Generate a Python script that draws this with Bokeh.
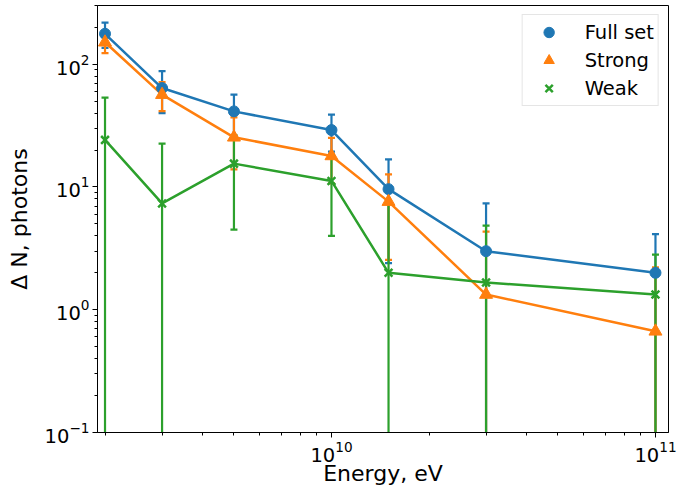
import numpy as np
from bokeh.plotting import figure
from bokeh.models import Range1d, FixedTicker, LogTickFormatter, Legend, LegendItem
from bokeh.embed import file_html
from bokeh.resources import INLINE

# ---- data ----
energy = [2e9, 3e9, 5e9, 1e10, 1.5e10, 3e10, 1e11]

full = [177, 64, 41.3, 29.1, 9.6, 3.0, 2.0]
full_err = [41, 24, 15.3, 9.7, 7.2, 4.35, 2.13]

strong = [151, 56.5, 25.4, 17.9, 7.6, 1.33, 0.667]
strong_err = [28, 15, 11.5, 7.2, 5.05, 3.0, 1.55]

weak = [24.2, 7.35, 15.5, 11.2, 2.0, 1.667, 1.333]
weak_err = [29.3, 15.2, 11.0, 7.2, 5.7, 3.17, 1.48]

labels = ["Full set", "Strong", "Weak"]
colors = ["#1f77b4", "#ff7f0e", "#2ca02c"]
markers = ["circle", "triangle", "x"]

# tick positions
x_major = [1e10, 1e11]
x_minor = [2e9, 3e9, 4e9, 5e9, 6e9, 7e9, 8e9, 9e9,
           2e10, 3e10, 4e10, 5e10, 6e10, 7e10, 8e10, 9e10]
y_major = [0.1, 1, 10, 100]
y_minor = [0.2, 0.3, 0.4, 0.5, 0.6, 0.7, 0.8, 0.9,
           2, 3, 4, 5, 6, 7, 8, 9,
           20, 30, 40, 50, 60, 70, 80, 90,
           200, 300]

FONT = "DejaVu Sans"

p = figure(width=688, height=488, x_axis_type="log", y_axis_type="log",
           x_range=Range1d(1.896e9, 1.097e11), y_range=Range1d(0.1, 301),
           output_backend="svg", toolbar_location=None,
           min_border_left=97, min_border_right=20, min_border_top=5,
           min_border_bottom=56)

p.grid.visible = False
p.outline_line_color = "black"
p.outline_line_width = 1
p.background_fill_color = "white"
p.border_fill_color = "white"

p.xaxis[0].ticker = FixedTicker(ticks=x_major, minor_ticks=x_minor)
p.yaxis[0].ticker = FixedTicker(ticks=y_major, minor_ticks=y_minor)

for ax in (p.xaxis[0], p.yaxis[0]):
    ax.formatter = LogTickFormatter()
    ax.major_tick_out = 5
    ax.major_tick_in = 0
    ax.minor_tick_out = 3
    ax.minor_tick_in = 0
    ax.axis_line_color = "black"
    ax.major_tick_line_color = "black"
    ax.minor_tick_line_color = "black"
    ax.major_label_text_font = FONT
    ax.major_label_text_font_size = "19.5px"
    ax.major_label_text_color = "black"
    ax.axis_label_text_font = FONT
    ax.axis_label_text_font_size = "22px"
    ax.axis_label_text_font_style = "normal"
    ax.axis_label_text_color = "black"
    ax.major_label_standoff = 3

p.xaxis.axis_label = "Energy, eV"
p.yaxis.axis_label = "\u0394 N, photons"
p.xaxis.axis_label_standoff = -4
p.yaxis.axis_label_standoff = 10

series = [(full, full_err), (strong, strong_err), (weak, weak_err)]
x = np.array(energy)

# error bars first
for (vals, errs), c in zip(series, colors):
    v = np.array(vals)
    e = np.array(errs)
    lo = v - e
    hi = v + e
    lo_plot = np.where(lo > 0, lo, 1e-4)
    p.segment(x0=x, y0=lo_plot, x1=x, y1=hi, line_color=c, line_width=2.2)
    p.scatter(x=x, y=hi, marker="dash", size=7, line_color=c, line_width=2.2)
    ok = lo > 0
    if ok.any():
        p.scatter(x=x[ok], y=lo[ok], marker="dash", size=7, line_color=c, line_width=2.2)

# connecting lines
for (vals, errs), c in zip(series, colors):
    p.line(x=x, y=vals, line_color=c, line_width=2.5)

# markers
items = []
for (vals, errs), c, m, lab in zip(series, colors, markers, labels):
    if m == "x":
        r = p.scatter(x=x, y=vals, marker="x", size=11, line_color=c, line_width=2.5)
    elif m == "triangle":
        r = p.scatter(x=x, y=vals, marker="triangle", size=13, fill_color=c, line_color=c)
    else:
        r = p.scatter(x=x, y=vals, marker="circle", size=11, fill_color=c, line_color=c)
    items.append(LegendItem(label=lab, renderers=[r]))

legend = Legend(items=items, location="top_right")
legend.margin = 9
legend.padding = 4
legend.spacing = 2
legend.label_height = 26
legend.glyph_height = 26
legend.glyph_width = 44
legend.label_standoff = 14
legend.label_text_font = FONT
legend.label_text_font_size = "19.5px"
legend.label_text_color = "black"
legend.border_line_color = "#cccccc"
legend.border_line_width = 1
legend.background_fill_alpha = 0.8
p.add_layout(legend)

open("out.html", "w").write(file_html(p, INLINE))
